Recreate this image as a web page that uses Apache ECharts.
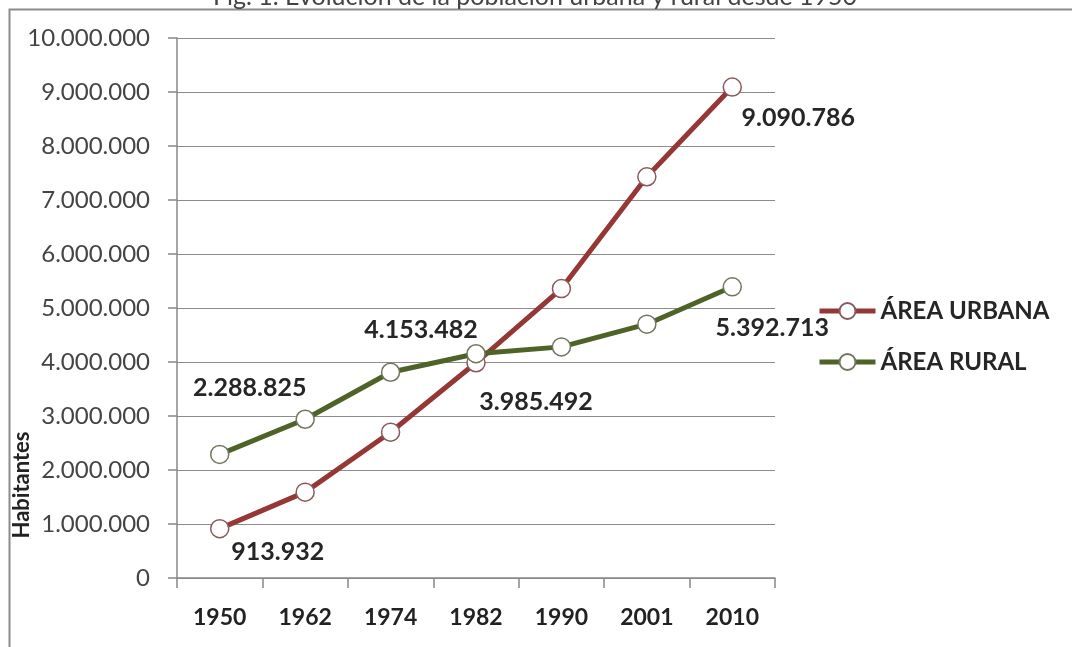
<!DOCTYPE html>
<html><head><meta charset="utf-8">
<script src="https://cdn.jsdelivr.net/npm/echarts@6/dist/echarts.min.js"></script>
<style>html,body{margin:0;padding:0;background:#fff}#c{width:1072px;height:647px}</style>
</head><body><div id="c"></div>
<script>
const years = ['1950','1962','1974','1982','1990','2001','2010'];
const urbana = [913932, 1590000, 2700000, 3985492, 5360000, 7430000, 9090786];
const rural = [2288825, 2940000, 3810000, 4153482, 4280000, 4700000, 5392713];
const yTicks = [0,1000000,2000000,3000000,4000000,5000000,6000000,7000000,8000000,9000000,10000000];

function fmt(v){return String(v).replace(/\B(?=(\d{3})+(?!\d))/g,'.');}

// label offsets (style) for labelled points
const urbLabels = {0:[58,23], 3:[60,39], 6:[66,31]};
const rurLabels = {0:[30,-66], 3:[-55,-24], 6:[40,41]};

function build(vals, lbl){
  return vals.map((v,i)=>{
    const o = {value:v};
    if (lbl[i]) {
      o.label = {show:true, position:'inside', offset:lbl[i], formatter:fmt(v),
        fontFamily:'Lato', fontWeight:'bold', fontSize:25, color:'#262626'};
    }
    return o;
  });
}

const chart = echarts.init(document.getElementById('c'));
chart.setOption({
  animation:false,
  title:{text:'Fig. 1. Evolución de la población urbana y rural desde 1950', left:530, textAlign:'center', top:-21,
    textStyle:{fontFamily:'Lato', fontWeight:'normal', fontSize:25, color:'#444'}},
  graphic:[
    {type:'rect', shape:{x:9.5,y:9.5,width:1080,height:700}, style:{fill:'none', stroke:'#8c8c8c', lineWidth:2}, z:-1},
    {type:'text', x:22, y:485, rotation:Math.PI/2, style:{text:'Habitantes', fontFamily:'Lato', fontWeight:'bold', fontSize:22, fill:'#222', textAlign:'center', textVerticalAlign:'middle'}}
  ],
  grid:{left:177, right:297, top:38, bottom:69},
  legend:{orient:'vertical', left:812, top:294, itemWidth:56, itemHeight:20, itemGap:27,
    textStyle:{fontFamily:'Lato', fontWeight:'bold', fontSize:24, color:'#262626'},
    lineStyle:{width:5},
    data:['ÁREA URBANA','ÁREA RURAL']},
  xAxis:{type:'category', data:years, boundaryGap:true,
    axisLine:{lineStyle:{color:'#888', width:1.5}},
    axisTick:{show:true, length:10, lineStyle:{color:'#888', width:1.5}},
    axisLabel:{margin:28, fontFamily:'Lato', fontWeight:'bold', fontSize:23, color:'#222'}},
  yAxis:{type:'value', min:yTicks[0], max:yTicks[yTicks.length-1], interval:1000000,
    axisLine:{show:true, lineStyle:{color:'#888', width:1.5}},
    axisTick:{show:true, length:9, lineStyle:{color:'#888', width:1.5}},
    splitLine:{lineStyle:{color:'#8c8c8c', width:1}},
    axisLabel:{margin:27, fontFamily:'Lato', fontSize:24, color:'#444', formatter:v=>fmt(v)}},
  series:[
    {name:'ÁREA URBANA', type:'line', data:build(urbana, urbLabels), symbol:'circle', symbolSize:18,
      lineStyle:{color:'#953735', width:5}, itemStyle:{color:'#fff', borderColor:'#8a5a5a', borderWidth:1.5},
      z:3},
    {name:'ÁREA RURAL', type:'line', data:build(rural, rurLabels), symbol:'circle', symbolSize:18,
      lineStyle:{color:'#4f6228', width:5}, itemStyle:{color:'#fff', borderColor:'#6f7760', borderWidth:1.5},
      z:4}
  ]
});
</script></body></html>
